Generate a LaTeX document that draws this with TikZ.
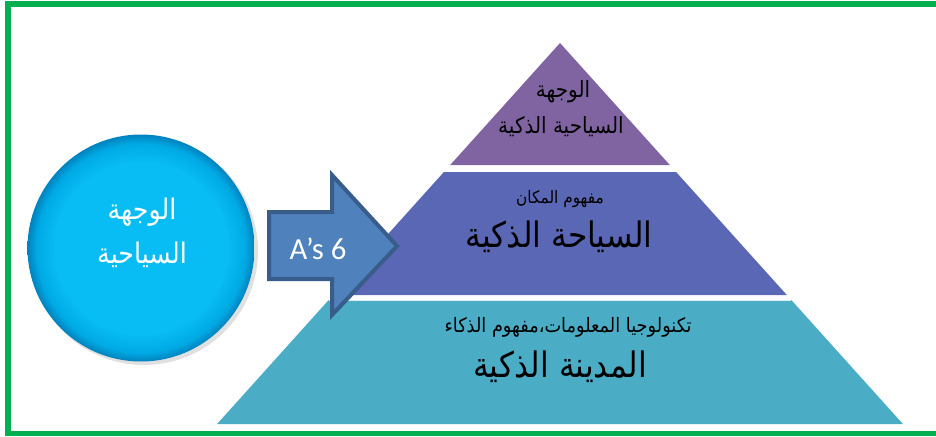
\documentclass[tikz,border=0pt]{standalone}
\usepackage{fontspec}
\TeXXeTstate=1
\newfontfamily\arabicfont[Script=Arabic]{DejaVu Sans}
\newfontfamily\latinsans{Carlito}

\definecolor{frameGreen}{RGB}{0,176,80}
\definecolor{levelTop}{RGB}{128,100,162}
\definecolor{levelMid}{RGB}{90,103,180}
\definecolor{levelBase}{RGB}{75,172,198}
\definecolor{arrowFill}{RGB}{79,129,189}
\definecolor{arrowEdge}{RGB}{56,93,138}
\definecolor{discA}{RGB}{8,188,244}
\definecolor{discB}{RGB}{0,170,228}
\definecolor{discC}{RGB}{0,130,190}

% bright disc with a soft darker rim
\pgfdeclareradialshading{discrim}{\pgfpoint{0bp}{0bp}}{%
  color(0bp)=(discA); color(19bp)=(discA); color(23bp)=(discB);
  color(25bp)=(discC); color(50bp)=(discC)}

% right-to-left Arabic line, slightly taller than the font's natural shape
\newcommand{\arline}[1]{\scalebox{1}[1.12]{\beginR #1\endR}}

\tikzset{
  ar/.style={inner sep=0pt, align=center},
}

\begin{document}
\begin{tikzpicture}[x=0.75pt,y=-0.75pt]
\useasboundingbox (0,0) rectangle (936,436);

% frame
\draw[frameGreen, line width=4.2pt] (945,4.2) -- (8,4.2) -- (8,433.5) -- (945,433.5);

% pyramid levels
\fill[levelTop]  (560,43) -- (669.8,165) -- (450.2,165) -- cycle;
\fill[levelMid]  (443.9,172) -- (676.1,172) -- (786.8,295) -- (333.2,295) -- cycle;
\fill[levelBase] (328.7,300) -- (791.3,300) -- (902.9,424) -- (217.1,424) -- cycle;
\draw[white!80!levelBase, line width=0.8pt] (328.7,300.5) -- (791.3,300.5);

% disc
\fill[black, opacity=0.12] (144,251) circle (114);
\shade[shading=discrim] (141,248) circle (113.5);

\node[ar, text=white, font=\arabicfont\fontsize{19}{21}\selectfont] (discA) at (142,212) {\arline{الوجهة}};
\node[ar, text=white, font=\arabicfont\fontsize{19}{21}\selectfont] (discB) at (142,255) {\arline{السياحية}};

% top level text
\node[ar, font=\arabicfont\fontsize{15}{17}\selectfont] (topA) at (563,92) {\arline{الوجهة}};
\node[ar, font=\arabicfont\fontsize{15}{17}\selectfont] (topB) at (561,127) {\arline{السياحية الذكية}};

% middle level text
\node[ar, font=\arabicfont\fontsize{11.5}{13}\selectfont] (midA) at (560,199) {\arline{مفهوم المكان}};
\node[ar, font=\arabicfont\fontsize{23.5}{26}\selectfont] (midB) at (559,237) {\arline{السياحة الذكية}};

% base level text
\node[ar, font=\arabicfont\fontsize{13.3}{15}\selectfont] (baseA) at (568,327) {\arline{تكنولوجيا المعلومات،مفهوم الذكاء}};
\node[ar, font=\arabicfont\fontsize{23.5}{26}\selectfont] (baseB) at (560,367) {\arline{المدينة الذكية}};

% arrow
\draw[fill=arrowFill, draw=arrowEdge, line width=3pt, line join=miter]
  (269,212) -- (332,212) -- (332,175) -- (397,246) -- (332,315) -- (332,279) -- (269,279) -- cycle;
\node[text=white, font=\latinsans\fontsize{23}{26}\selectfont, inner sep=0pt] (arrowtxt) at (318,249) {A’s 6};
\end{tikzpicture}
\end{document}
